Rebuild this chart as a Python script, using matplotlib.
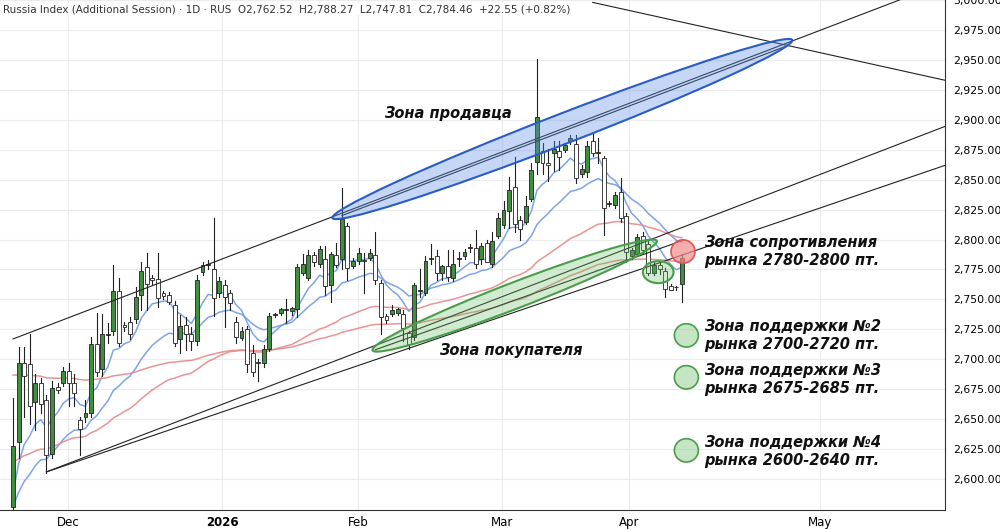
import matplotlib
matplotlib.use("Agg")
import matplotlib.pyplot as plt
import numpy as np
from matplotlib.patches import Ellipse
from matplotlib.transforms import IdentityTransform

ohlc = [
(2577,2668,2570,2628),(2631,2710,2618,2697),(2697,2710,2652,2686),(2696,2721,2646,2661),
(2664,2688,2641,2680),(2680,2684,2655,2663),(2666,2670,2605,2620),(2621,2682,2618,2676),
(2677,2680,2672,2674),(2680,2694,2678,2690),(2690,2697,2661,2680),(2680,2688,2661,2672),
(2649,2652,2620,2642),(2652,2666,2648,2655),(2655,2719,2652,2713),(2713,2739,2686,2689),
(2692,2738,2686,2721),(2720,2730,2714,2720),(2724,2779,2720,2757),(2757,2768,2711,2714),
(2729,2731,2724,2727),(2731,2735,2717,2721),(2734,2760,2730,2752),(2754,2781,2741,2774),
(2777,2789,2741,2763),(2768,2770,2763,2766),(2767,2789,2744,2751),(2755,2757,2750,2753),
(2754,2756,2746,2748),(2745,2749,2711,2714),(2717,2737,2705,2728),(2729,2735,2708,2721),
(2721,2727,2708,2715),(2715,2770,2712,2766),(2773,2781,2770,2779),(2779,2783,2775,2779),
(2775,2818,2736,2751),(2755,2769,2752,2765),(2762,2766,2727,2752),(2755,2758,2741,2747),
(2731,2735,2714,2719),(2718,2727,2716,2724),(2725,2728,2689,2696),(2705,2712,2686,2689),
(2697,2700,2682,2697),(2697,2712,2694,2709),(2709,2739,2707,2736),(2737,2739,2735,2738),
(2739,2743,2737,2742),(2741,2750,2730,2741),(2740,2744,2737,2743),(2742,2780,2735,2777),
(2772,2788,2770,2780),(2768,2791,2766,2787),(2787,2790,2778,2781),(2780,2795,2777,2792),
(2784,2795,2754,2761),(2762,2790,2748,2788),(2787,2797,2777,2779),(2784,2843,2775,2817),
(2811,2814,2766,2776),(2778,2785,2776,2782),(2782,2793,2780,2789),(2783,2789,2755,2782),
(2785,2792,2783,2789),(2787,2806,2763,2766),(2764,2766,2721,2735),(2736,2738,2730,2733),
(2738,2745,2736,2741),(2739,2743,2737,2742),(2738,2741,2715,2726),(2722,2724,2709,2713),
(2719,2764,2716,2762),(2757,2775,2752,2758),(2755,2786,2754,2782),(2784,2796,2780,2785),
(2786,2791,2766,2772),(2772,2779,2766,2778),(2778,2791,2765,2769),(2768,2791,2765,2780),
(2784,2790,2778,2784),(2786,2792,2784,2790),(2793,2796,2790,2793),(2793,2808,2776,2780),
(2784,2797,2780,2795),(2797,2800,2781,2781),(2780,2806,2777,2799),(2803,2822,2801,2818),
(2812,2832,2810,2825),(2824,2852,2810,2841),(2844,2869,2806,2813),(2816,2820,2800,2809),
(2815,2836,2813,2828),(2834,2864,2832,2858),(2865,2951,2855,2902),(2874,2881,2855,2864),
(2864,2876,2849,2862),(2872,2882,2857,2876),(2874,2882,2858,2869),(2875,2881,2873,2879),
(2882,2887,2880,2885),(2880,2887,2847,2851),(2855,2862,2852,2859),(2856,2882,2852,2878),
(2882,2890,2870,2872),(2872,2885,2864,2872),(2868,2870,2804,2826),(2830,2832,2828,2830),
(2829,2840,2826,2837),(2840,2851,2815,2818),(2820,2822,2781,2790),(2786,2793,2784,2791),
(2788,2805,2786,2802),(2803,2806,2789,2791),(2796,2799,2770,2772),(2772,2782,2770,2779),
(2779,2782,2771,2775),(2774,2776,2752,2759),(2761,2763,2758,2758),(2760,2761,2758,2760),
(2762.52,2788.27,2747.81,2784.46),
]
month_labels = ["Dec", "2026", "Feb", "Mar", "Apr", "May"]
month_pos = [9.9, 37.5, 61.9, 87.7, 110.5, 144.8]
yticks = list(range(2600, 3001, 25))
ma_specs = [(8, 2577, "#6f9be8"), (20, 2572, "#6f9be8"), (50, 2613, "#e58a8a"), (100, 2688, "#e58a8a")]

fig = plt.figure(figsize=(10, 5.3), dpi=100)
ax = fig.add_axes([0, 20/530, 0.945, 510/530])
ax.set_xlim(-2.33, 167.2)
ax.set_ylim(2574.2, 2998.3)
for y in yticks:
    ax.axhline(y, color="#ececec", lw=0.8, zorder=0)
for x in month_pos:
    ax.axvline(x, color="#ececec", lw=0.8, zorder=0)

o = np.array([r[0] for r in ohlc]); h = np.array([r[1] for r in ohlc])
l = np.array([r[2] for r in ohlc]); c = np.array([r[3] for r in ohlc])
idx = np.arange(len(ohlc))

for n, seed, col in ma_specs:
    a = 2/(n+1); v = seed; vals = []
    for ci in c:
        v = v + a*(ci - v); vals.append(v)
    ax.plot(idx, vals, color=col, lw=1.1, alpha=0.9, zorder=2)

for i in idx:
    up = c[i] >= o[i]
    ax.plot([i, i], [l[i], h[i]], color="#222222", lw=0.8, zorder=3)
    ax.bar(i, max(abs(c[i]-o[i]), 0.8), bottom=min(o[i], c[i]), width=0.7,
           color="#3f8f3f" if up else "white", edgecolor="#222222", lw=0.6, zorder=4)

def line(p1, p2, ext=True):
    (x1, y1), (x2, y2) = p1, p2
    if ext:
        s = (y2-y1)/(x2-x1); x2e = 170; y2 = y1 + s*(x2e-x1); x2 = x2e
    ax.plot([x1, x2], [y1, y2], color="#222222", lw=0.8, zorder=5)
line((0, 2717), (59, 2822))
line((6, 2606), (120, 2810))
line((6, 2606), (120, 2787))
line((104, 2998), (139, 2962))
line((59, 2820), (139, 2962), ext=False)
line((65, 2708), (120, 2799), ext=False)

fig.canvas.draw()
T = ax.transData
def ell(p1, p2, minor, fc, ec):
    a = T.transform(p1); b = T.transform(p2)
    cen = (a+b)/2; d = b-a
    L = np.hypot(*d); ang = np.degrees(np.arctan2(d[1], d[0]))
    ax.add_patch(Ellipse(cen, L, minor, angle=ang, transform=IdentityTransform(),
                         fc=fc, ec=ec, lw=1.5, zorder=6))
ell((57.3, 2817), (139.8, 2965), 30, (0.35, 0.55, 0.9, 0.35), "#2a5cc8")
ell((64.5, 2707), (115.5, 2798), 26, (0.4, 0.75, 0.4, 0.3), "#4a9e4a")
ell((113, 2772), (118.5, 2772), 22, (0.4, 0.75, 0.4, 0.3), "#4a9e4a")

def circ(x, y, fc, ec):
    ax.add_patch(Ellipse((x, y), 4.3, 19.5, fc=fc, ec=ec, lw=1.2, zorder=7))
circ(120.2, 2790, (0.95, 0.55, 0.55, 0.7), "#d55")
for yy in [2720, 2685, 2624]:
    circ(120.8, yy, (0.55, 0.8, 0.55, 0.5), "#4a9e4a")

tk = dict(fontsize=10.5, fontweight="bold", fontstyle="italic", color="#111111", zorder=8)
ax.text(124, 2790, "Зона сопротивления\nрынка 2780-2800 пт.", va="center", ha="left", **tk)
ax.text(124, 2720, "Зона поддержки №2\nрынка 2700-2720 пт.", va="center", ha="left", **tk)
ax.text(124, 2683, "Зона поддержки №3\nрынка 2675-2685 пт.", va="center", ha="left", **tk)
ax.text(124, 2623, "Зона поддержки №4\nрынка 2600-2640 пт.", va="center", ha="left", **tk)
ax.text(66.5, 2905, "Зона продавца", va="center", ha="left", **tk)
ax.text(76.5, 2707, "Зона покупателя", va="center", ha="left", **tk)

ax.text(0.003, 0.992, "Russia Index (Additional Session) · 1D · RUS  O2,762.52  H2,788.27  L2,747.81  C2,784.46  +22.55 (+0.82%)",
        transform=ax.transAxes, fontsize=7.5, color="#333333", va="top", ha="left",
        bbox=dict(fc="white", ec="none", pad=1), zorder=9)

ax.set_xticks(month_pos)
ax.set_xticklabels(month_labels)
for lab in ax.get_xticklabels():
    lab.set_fontweight("bold" if lab.get_text() == "2026" else "normal")
ax.tick_params(axis="x", length=0, labelsize=8.5, pad=4)
ax.yaxis.tick_right()
ax.set_yticks(yticks)
ax.set_yticklabels([f"{v:,.2f}" for v in yticks])
ax.tick_params(axis="y", length=0, labelsize=7.8, pad=6)
for s in ["top", "left"]:
    ax.spines[s].set_visible(False)
ax.spines["right"].set_color("#333333")
ax.spines["bottom"].set_color("#333333")
fig.savefig("out.png", dpi=100)
